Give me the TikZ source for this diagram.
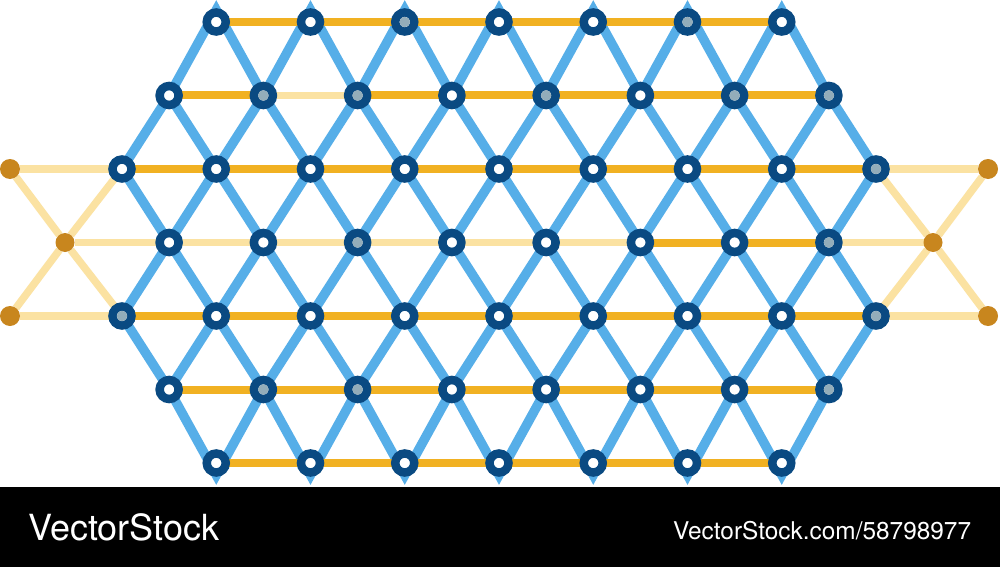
\documentclass[tikz,border=0pt]{standalone}
\usepackage{fontspec}
\setmainfont{TeX Gyre Heros}
\usetikzlibrary{backgrounds}
\definecolor{lblue}{HTML}{56AEE8}
\definecolor{dblue}{HTML}{0A4A82}
\definecolor{orng}{HTML}{F1B122}
\definecolor{pale}{HTML}{FBE2A2}
\definecolor{gold}{HTML}{C8861E}
\definecolor{grayc}{HTML}{93ADBA}
\tikzset{
  vtx/.style={circle, draw=dblue, line width=8.5pt, fill=white, minimum size=19pt, inner sep=0pt, outer sep=0pt},
  side/.style={circle, fill=gold, minimum size=20pt, inner sep=0pt, outer sep=0pt},
  bline/.style={draw=lblue, line width=9.5pt, line join=miter},
  oline/.style={draw=orng, line width=8pt},
  pline/.style={draw=pale, line width=7.5pt},
  mark text/.style={anchor=base west, text=white, inner sep=0pt}
}
\begin{document}
\begin{tikzpicture}[x=1pt,y=-1pt]
\useasboundingbox (0,0) rectangle (1000,567);
% lattice nodes
\foreach \r/\a/\b in {0/2/14,1/1/15,2/0/16,3/1/15,4/0/16,5/1/15,6/2/14}{
  \pgfmathtruncatemacro\an{\a+2}
  \foreach \k in {\a,\an,...,\b}{
    \node[vtx] (n\r-\k) at ({499+47.125*(\k-8)},{22+73.5*\r}) {};
  }
}
% grey-centred nodes
\foreach \n in {n0-6,n0-12,n1-3,n1-5,n1-9,n1-13,n1-15,n2-16,n3-5,n3-15,n4-0,n4-16,n5-3,n5-5,n5-15}{
  \fill[grayc] (\n) circle (5.3pt);
}
% side nodes
\node[side] (L1) at (10,169) {};
\node[side, minimum size=19pt] (L2) at (65,242.5) {};
\node[side] (L3) at (10,316) {};
\node[side] (R1) at (988,169) {};
\node[side, minimum size=19pt] (R2) at (933,242.5) {};
\node[side] (R3) at (988,316) {};
% tips
\foreach \k in {2,4,...,14}{
  \coordinate (tt\k) at ({499+47.125*(\k-8)},10);
  \coordinate (tb\k) at ({499+47.125*(\k-8)},475);
}
% footer
\fill[black] (0,487) rectangle (1000,567);
\node[mark text, font=\fontsize{36}{36}\selectfont] (brand) at (28,540) {VectorStock};
\node[mark text, font=\fontsize{24.4}{24.4}\selectfont] (url) at (673,539) {VectorStock.com/58798977};

\begin{pgfonlayer}{background}
\fill[white] (0,0) rectangle (1000,487);
% blue: top and bottom peaks
\foreach \k in {2,4,...,14}{
  \pgfmathtruncatemacro\km{\k-1}
  \pgfmathtruncatemacro\kp{\k+1}
  \draw[bline] (n1-\km) -- (tt\k) -- (n1-\kp);
  \draw[bline] (n5-\km) -- (tb\k) -- (n5-\kp);
}
% blue: inner diagonals
\foreach \k in {1,3,...,15}{
  \pgfmathtruncatemacro\km{\k-1}
  \pgfmathtruncatemacro\kp{\k+1}
  \draw[bline] (n1-\k) -- (n2-\km);
  \draw[bline] (n1-\k) -- (n2-\kp);
  \draw[bline] (n3-\k) -- (n2-\km);
  \draw[bline] (n3-\k) -- (n2-\kp);
  \draw[bline] (n3-\k) -- (n4-\km);
  \draw[bline] (n3-\k) -- (n4-\kp);
  \draw[bline] (n5-\k) -- (n4-\km);
  \draw[bline] (n5-\k) -- (n4-\kp);
}
% horizontal orange
\foreach \k in {2,4,...,12}{
  \pgfmathtruncatemacro\kp{\k+2}
  \draw[oline] (n0-\k) -- (n0-\kp);
  \draw[oline] (n6-\k) -- (n6-\kp);
}
\foreach \k in {0,2,...,14}{
  \pgfmathtruncatemacro\kp{\k+2}
  \draw[oline] (n2-\k) -- (n2-\kp);
  \draw[oline] (n4-\k) -- (n4-\kp);
}
\foreach \k in {1,5,7,9,11,13}{
  \pgfmathtruncatemacro\kp{\k+2}
  \draw[oline] (n1-\k) -- (n1-\kp);
}
\draw[pline] (n1-3) -- (n1-5);
\foreach \k in {1,3,...,13}{
  \pgfmathtruncatemacro\kp{\k+2}
  \draw[oline] (n5-\k) -- (n5-\kp);
}
\foreach \k in {1,3,5,7,9}{
  \pgfmathtruncatemacro\kp{\k+2}
  \draw[pline] (n3-\k) -- (n3-\kp);
}
\draw[oline] (n3-11) -- (n3-13);
\draw[oline] (n3-13) -- (n3-15);
% pale side lines
\draw[pline] (L1) -- (n2-0);
\draw[pline] (L3) -- (n4-0);
\draw[pline] (L2) -- (n3-1);
\draw[pline] (L1) -- (L2);
\draw[pline] (L2) -- (n4-0);
\draw[pline] (L3) -- (L2);
\draw[pline] (L2) -- (n2-0);
\draw[pline] (R1) -- (n2-16);
\draw[pline] (R3) -- (n4-16);
\draw[pline] (R2) -- (n3-15);
\draw[pline] (R1) -- (R2);
\draw[pline] (R2) -- (n4-16);
\draw[pline] (R3) -- (R2);
\draw[pline] (R2) -- (n2-16);
\end{pgfonlayer}
\end{tikzpicture}
\end{document}
